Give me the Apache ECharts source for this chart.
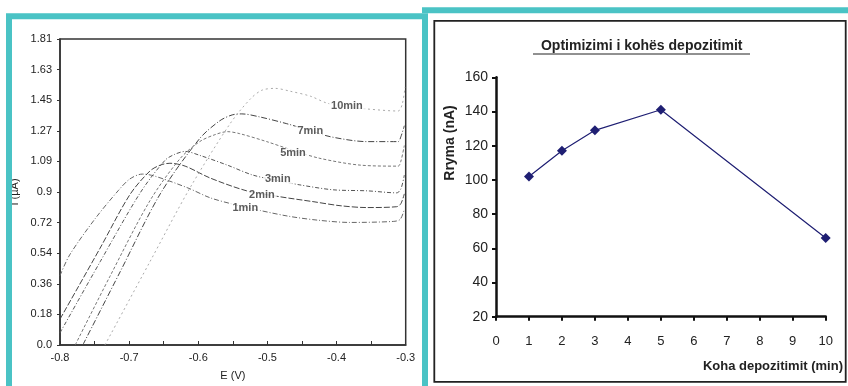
<!DOCTYPE html>
<html>
<head>
<meta charset="utf-8">
<script src="https://cdn.jsdelivr.net/npm/echarts@6/dist/echarts.min.js"></script>
<style>
  html, body { margin: 0; padding: 0; background: #fff; }
  #chart { width: 848px; height: 386px; }
</style>
</head>
<body>
<div id="chart"></div>
<script>
// left panel: stripping voltammograms, I (uA) vs E (V)
const curveNames = ['1min', '2min', '3min', '5min', '7min', '10min'];
const curve1 = [[-0.800, 0.410], [-0.786, 0.533], [-0.749, 0.748], [-0.716, 0.912], [-0.699, 0.982], [-0.681, 1.011], [-0.663, 0.999], [-0.615, 0.929], [-0.583, 0.871], [-0.547, 0.830], [-0.511, 0.796], [-0.467, 0.760], [-0.424, 0.737], [-0.381, 0.725], [-0.318, 0.731], [-0.308, 0.743], [-0.302, 0.802]];
const curve2 = [[-0.800, 0.153], [-0.742, 0.573], [-0.699, 0.889], [-0.670, 1.029], [-0.655, 1.064], [-0.641, 1.075], [-0.619, 1.058], [-0.583, 0.988], [-0.530, 0.912], [-0.482, 0.877], [-0.434, 0.848], [-0.395, 0.824], [-0.356, 0.813], [-0.313, 0.818], [-0.307, 0.836], [-0.302, 0.894]];
const curve3 = [[-0.800, 0.072], [-0.742, 0.492], [-0.684, 0.900], [-0.648, 1.093], [-0.634, 1.128], [-0.619, 1.145], [-0.598, 1.122], [-0.558, 1.064], [-0.521, 1.005], [-0.482, 0.970], [-0.453, 0.947], [-0.405, 0.918], [-0.356, 0.912], [-0.313, 0.900], [-0.307, 0.923], [-0.302, 1.005]];
const curve5 = [[-0.778, 0.0], [-0.728, 0.404], [-0.670, 0.853], [-0.626, 1.104], [-0.598, 1.203], [-0.576, 1.244], [-0.558, 1.262], [-0.540, 1.250], [-0.501, 1.203], [-0.463, 1.151], [-0.424, 1.104], [-0.366, 1.064], [-0.311, 1.058], [-0.307, 1.087], [-0.302, 1.180]];
const curve7 = [[-0.767, 0.0], [-0.713, 0.433], [-0.655, 0.894], [-0.598, 1.221], [-0.569, 1.326], [-0.551, 1.361], [-0.537, 1.367], [-0.511, 1.349], [-0.472, 1.309], [-0.438, 1.268], [-0.409, 1.232], [-0.356, 1.203], [-0.311, 1.203], [-0.307, 1.232], [-0.302, 1.297]];
const curve10 = [[-0.735, 0.0], [-0.670, 0.492], [-0.612, 0.929], [-0.554, 1.309], [-0.525, 1.454], [-0.508, 1.507], [-0.489, 1.518], [-0.467, 1.501], [-0.438, 1.472], [-0.414, 1.431], [-0.385, 1.408], [-0.356, 1.396], [-0.311, 1.384], [-0.305, 1.425], [-0.301, 1.524]];
const curveLabelPos = [[-0.532, 0.813], [-0.508, 0.888], [-0.485, 0.982], [-0.463, 1.133], [-0.438, 1.268], [-0.385, 1.413]];
const yTickLabels = ['0.0', '0.18', '0.36', '0.54', '0.72', '0.9', '1.09', '1.27', '1.45', '1.63', '1.81'];

// right panel: current vs deposition time
const times = [1, 2, 3, 5, 10];
const currents = [102, 117, 129, 141, 66];

const font = 'Liberation Sans, Arial, sans-serif';
const teal = '#4ac3c5';

const curves = [curve1, curve2, curve3, curve5, curve7, curve10];
const curveColors = ['#666', '#444', '#555', '#777', '#444', '#aaa'];
const curveDash = [[5, 2, 1, 2], [6, 2], [4, 2, 1, 2], [3, 2], [6, 2, 1, 2], [2, 3]];

const series = curves.map((d, i) => ({
    name: curveNames[i],
    type: 'line',
    xAxisIndex: 0,
    yAxisIndex: 0,
    data: d,
    smooth: 0.3,
    symbol: 'none',
    lineStyle: { color: curveColors[i], width: 1, type: curveDash[i] },
    z: 2
}));

series.push({
    type: 'scatter',
    xAxisIndex: 0,
    yAxisIndex: 0,
    data: curveLabelPos.map((p, i) => ({ value: p, name: curveNames[i] })),
    symbolSize: 1,
    itemStyle: { color: 'rgba(0,0,0,0)' },
    label: {
        show: true,
        position: 'inside',
        formatter: p => p.name,
        fontFamily: font,
        fontWeight: 'bold',
        fontSize: 11,
        color: '#333',
        backgroundColor: '#fff',
        padding: [0, 2]
    },
    z: 5
});

series.push({
    type: 'line',
    xAxisIndex: 1,
    yAxisIndex: 1,
    data: times.map((t, i) => [t, currents[i]]),
    symbol: 'diamond',
    symbolSize: 10,
    lineStyle: { color: '#1f1f73', width: 1.2 },
    itemStyle: { color: '#1f1f73' }
});

const chart = echarts.init(document.getElementById('chart'));
chart.setOption({
    animation: false,
    grid: [
        { left: 60, top: 39, right: 442.3, bottom: 36.7, show: true, borderColor: '#333', borderWidth: 1.5, backgroundColor: 'transparent' },
        { left: 496, top: 77.3, right: 22.3, bottom: 69.3 }
    ],
    xAxis: [
        {
            gridIndex: 0, type: 'value', min: -0.8, max: -0.3, interval: 0.05,
            name: 'E (V)', nameLocation: 'middle', nameGap: 25,
            nameTextStyle: { fontFamily: font, fontSize: 11, color: '#222' },
            axisLine: { lineStyle: { color: '#333', width: 1.5 } },
            axisTick: { inside: true, length: 4, lineStyle: { color: '#333' } },
            splitLine: { show: false },
            axisLabel: {
                fontFamily: font, fontSize: 11, color: '#222', margin: 7,
                formatter: v => (Math.round(v * 100) % 10 === 0 ? v.toFixed(1) : '')
            }
        },
        {
            gridIndex: 1, type: 'value', min: 0, max: 10, interval: 1,
            axisLine: { lineStyle: { color: '#111', width: 2.5 } },
            axisTick: { length: 4, lineStyle: { color: '#111', width: 2 } },
            splitLine: { show: false },
            axisLabel: { fontFamily: font, fontSize: 13, color: '#222', margin: 18 }
        }
    ],
    yAxis: [
        {
            gridIndex: 0, type: 'value', min: 0, max: 1.81, interval: 0.181,
            name: 'I (µA)', nameLocation: 'middle', nameGap: 40,
            nameTextStyle: { fontFamily: font, fontSize: 11, color: '#222' },
            axisLine: { lineStyle: { color: '#333', width: 1.5 } },
            axisTick: { length: 3, lineStyle: { color: '#333' } },
            splitLine: { show: false },
            axisLabel: {
                fontFamily: font, fontSize: 11, color: '#222', margin: 8,
                formatter: v => yTickLabels[Math.round(v / 0.181)]
            }
        },
        {
            gridIndex: 1, type: 'value', min: 20, max: 160, interval: 20,
            axisLine: { show: true, lineStyle: { color: '#111', width: 2.5 } },
            axisTick: { show: true, length: 4, lineStyle: { color: '#111', width: 2 } },
            splitLine: { show: false },
            axisLabel: { fontFamily: font, fontSize: 14, color: '#222', margin: 8 }
        }
    ],
    graphic: [
        { type: 'rect', shape: { x: 9, y: 16.3, width: 416, height: 400 }, style: { fill: 'none', stroke: teal, lineWidth: 6 }, z: 10 },
        { type: 'line', shape: { x1: 422, y1: 10.3, x2: 860, y2: 10.3 }, style: { stroke: teal, lineWidth: 6 }, z: 10 },
        { type: 'rect', shape: { x: 434.3, y: 20.8, width: 411.4, height: 361 }, style: { fill: 'none', stroke: '#222', lineWidth: 1.8 }, z: 10 },
        { type: 'text', x: 641.7, y: 46.5, style: { text: 'Optimizimi i kohës depozitimit', font: 'bold 14px ' + font, fill: '#222', textAlign: 'center', textVerticalAlign: 'middle' }, z: 10 },
        { type: 'line', shape: { x1: 533, y1: 54, x2: 750, y2: 54 }, style: { stroke: '#222', lineWidth: 1 }, z: 10 },
        { type: 'text', x: 450, y: 143, rotation: Math.PI / 2, style: { text: 'Rryma (nA)', font: 'bold 14px ' + font, fill: '#222', textAlign: 'center', textVerticalAlign: 'middle' }, z: 10 },
        { type: 'text', x: 843, y: 366.7, style: { text: 'Koha depozitimit (min)', font: 'bold 13px ' + font, fill: '#222', textAlign: 'right', textVerticalAlign: 'middle' }, z: 10 }
    ],
    series: series
});
</script>
</body>
</html>
